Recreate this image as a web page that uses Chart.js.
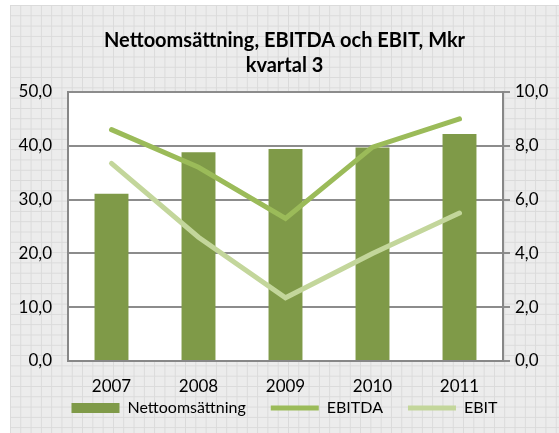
<!DOCTYPE html>
<html>
<head>
<meta charset="utf-8">
<script src="https://cdn.jsdelivr.net/npm/chart.js@4"></script>
<style>
  html, body { margin: 0; padding: 0; background: #fff; }
  #wrap { position: relative; width: 559px; height: 433px; }
  #bg {
    position: absolute; left: 10px; top: 5px; width: 549px; height: 428px;
    background-color: #ececec;
    background-image: linear-gradient(#dadada 1px, transparent 1px),
                      linear-gradient(90deg, #dadada 1px, transparent 1px);
    background-size: 10.3px 10.3px;
  }
  canvas { position: absolute; left: 0; top: 0; }
</style>
</head>
<body>
<div id="wrap">
  <div id="bg"></div>
  <canvas id="chart" width="559" height="433"></canvas>
</div>
<script>
// data
const years = ['2007', '2008', '2009', '2010', '2011'];
const netSales = [31.1, 38.8, 39.4, 39.7, 42.2];
const ebitda = [8.6, 7.2, 5.3, 7.95, 9.0];
const ebit = [7.35, 4.6, 2.35, 4.0, 5.5];

const FONT = 'Lato, "Noto Sans", sans-serif';
const fmt = v => v.toFixed(1).replace('.', ',');

// white plot area
const plotBg = {
  id: 'plotBg',
  beforeDraw(chart) {
    const a = chart.chartArea;
    const ctx = chart.ctx;
    ctx.save();
    ctx.fillStyle = '#ffffff';
    ctx.fillRect(a.left, a.top, a.right - a.left, a.bottom - a.top);
    ctx.restore();
  }
};

// legend sits tight under the year labels, closer than chart.js would put it
const legendUp = {
  id: 'legendUp',
  afterLayout(chart) {
    chart.legend.top -= 22;
    chart.legend.bottom -= 22;
  }
};

new Chart(document.getElementById('chart'), {
  type: 'bar',
  data: {
    labels: years,
    datasets: [
      {
        type: 'bar',
        label: 'Nettoomsättning',
        data: netSales,
        backgroundColor: '#7f9a48',
        yAxisID: 'y',
        barPercentage: 0.39,
        categoryPercentage: 1,
        order: 1,
        pointStyle: 'rect'
      },
      {
        type: 'line',
        label: 'EBITDA',
        data: ebitda,
        borderColor: '#9bbb59',
        backgroundColor: '#9bbb59',
        borderWidth: 5,
        borderCapStyle: 'round',
        pointRadius: 0,
        pointStyle: 'line',
        yAxisID: 'y1',
        order: 0
      },
      {
        type: 'line',
        label: 'EBIT',
        data: ebit,
        borderColor: '#c3d69b',
        backgroundColor: '#c3d69b',
        borderWidth: 5,
        borderCapStyle: 'round',
        pointRadius: 0,
        pointStyle: 'line',
        yAxisID: 'y1',
        order: 0
      }
    ]
  },
  options: {
    responsive: false,
    animation: false,
    layout: { padding: { left: 10, right: 0, top: 28, bottom: -15 } },
    plugins: {
      tooltip: { enabled: false },
      title: {
        display: true,
        text: ['Nettoomsättning, EBITDA och EBIT, Mkr', 'kvartal 3'],
        color: '#000',
        font: { family: FONT, size: 20, weight: 'bold', lineHeight: 1.25 },
        padding: { top: 0, bottom: 14 }
      },
      legend: {
        position: 'bottom',
        labels: {
          color: '#000',
          font: { family: FONT, size: 16 },
          usePointStyle: true,
          pointStyleWidth: 48,
          boxHeight: 10,
          padding: 25,
          sort: (a, b) => a.datasetIndex - b.datasetIndex
        }
      }
    },
    scales: {
      x: {
        grid: { display: false, drawTicks: false },
        border: { display: true, color: '#878787', width: 2 },
        ticks: { color: '#000', font: { family: FONT, size: 17 }, padding: 15 },
        afterFit(scale) { scale.height = 36; }
      },
      y: {
        position: 'left',
        min: 0, max: 50,
        ticks: { stepSize: 10, callback: v => fmt(v), color: '#000', font: { family: FONT, size: 17 }, padding: 16 },
        grid: { color: '#8c8c8c', lineWidth: 2, drawTicks: false },
        border: { display: true, color: '#878787', width: 2 },
        afterFit(scale) { scale.width = 58; }
      },
      y1: {
        position: 'right',
        min: 0, max: 10,
        ticks: { stepSize: 2, callback: v => fmt(v), color: '#000', font: { family: FONT, size: 17 }, padding: 5 },
        grid: { drawOnChartArea: false, drawTicks: true, tickLength: 7, color: '#8c8c8c', lineWidth: 2 },
        border: { display: true, color: '#878787', width: 2 },
        afterFit(scale) { scale.width = 56; }
      }
    }
  },
  plugins: [plotBg, legendUp]
});
</script>
</body>
</html>
